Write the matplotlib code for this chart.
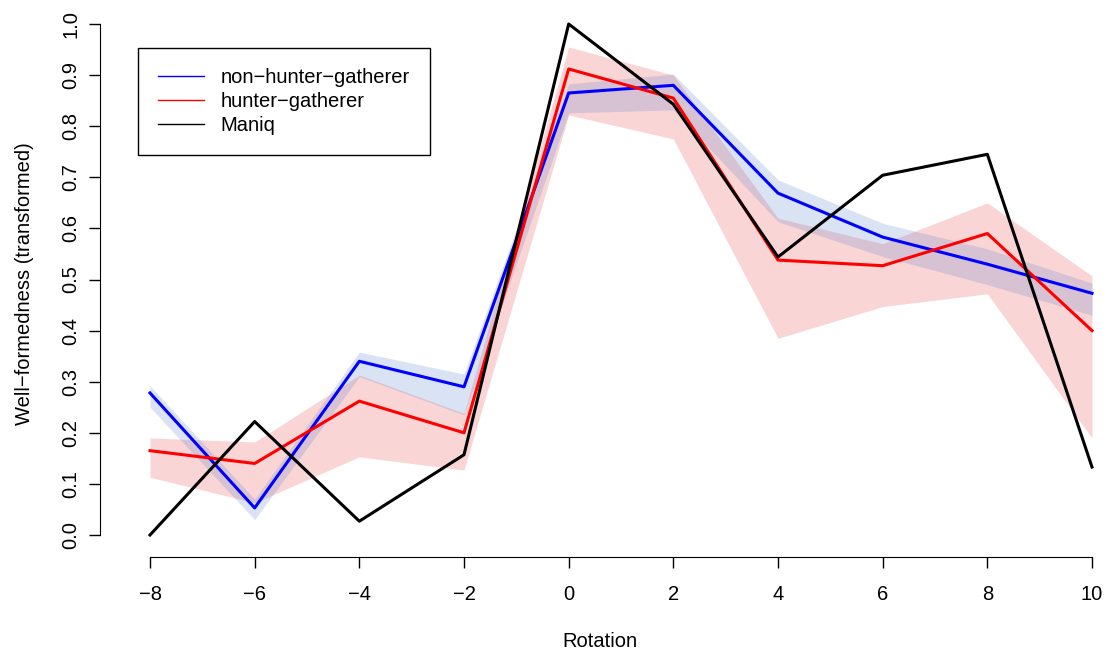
import matplotlib.pyplot as plt
import numpy as np

plt.rcParams['font.family'] = ['Liberation Sans', 'DejaVu Sans']

rotation = [-8, -6, -4, -2, 0, 2, 4, 6, 8, 10]

# non-hunter-gatherer
nhg = [0.278, 0.053, 0.340, 0.290, 0.865, 0.880, 0.669, 0.583, 0.530, 0.473]
nhg_lo = [0.250, 0.030, 0.310, 0.235, 0.826, 0.832, 0.613, 0.545, 0.490, 0.430]
nhg_hi = [0.292, 0.070, 0.358, 0.315, 0.883, 0.902, 0.695, 0.610, 0.560, 0.493]

# hunter-gatherer
hg = [0.165, 0.140, 0.262, 0.200, 0.912, 0.855, 0.538, 0.527, 0.590, 0.400]
hg_lo = [0.113, 0.063, 0.153, 0.127, 0.822, 0.775, 0.385, 0.447, 0.472, 0.190]
hg_hi = [0.190, 0.182, 0.313, 0.238, 0.955, 0.900, 0.620, 0.570, 0.650, 0.507]

# Maniq
maniq = [0.0, 0.222, 0.027, 0.157, 1.0, 0.843, 0.544, 0.704, 0.745, 0.133]

fig = plt.figure(figsize=(11.07, 6.57), dpi=100)
W, H = 1107, 657
ax = fig.add_axes([100 / W, 1 - 557 / H, 1000 / W, 547 / H])

ax.fill_between(rotation, hg_lo, hg_hi, color=(0.93, 0.35, 0.35), alpha=0.25, lw=0)
ax.fill_between(rotation, nhg_lo, nhg_hi, color=(0.35, 0.5, 0.8), alpha=0.22, lw=0)
ax.plot(rotation, nhg, color='blue', lw=2.2)
ax.plot(rotation, hg, color='red', lw=2.2)
ax.plot(rotation, maniq, color='black', lw=2.2)

ax.set_xlim(-8 - 50 / 52.33, 10 + 8 / 52.33)
ax.set_ylim(-22 / 511, 1 + 14 / 511)

for s in ['top', 'right']:
    ax.spines[s].set_visible(False)
ax.spines['left'].set_bounds(0, 1)
ax.spines['bottom'].set_bounds(-8, 10)
ax.set_xticks(rotation)
ax.set_xticklabels(['\u22128', '\u22126', '\u22124', '\u22122', '0', '2', '4', '6', '8', '10'])
yt = np.round(np.arange(0, 1.01, 0.1), 1)
ax.set_yticks(yt)
ax.set_yticklabels(['%.1f' % v for v in yt], rotation=90, va='center')
ax.tick_params(direction='out', length=8, width=1, labelsize=14.5)
ax.tick_params(axis='x', pad=12)
ax.tick_params(axis='y', pad=6)

ax.set_xlabel('Rotation', fontsize=14.5, labelpad=20)
ax.set_ylabel('Well\u2212formedness (transformed)', fontsize=14.5, labelpad=20)

from matplotlib.lines import Line2D
handles = [Line2D([], [], color='blue', lw=1),
           Line2D([], [], color='red', lw=1),
           Line2D([], [], color='black', lw=1)]
leg = ax.legend(handles, ['non\u2212hunter\u2212gatherer', 'hunter\u2212gatherer', 'Maniq'],
                loc='upper left', bbox_to_anchor=((138 - 100) / 1000, (557 - 48) / 547),
                fontsize=14.5, fancybox=False, framealpha=1, edgecolor='black',
                handlelength=2.3, handletextpad=0.8, borderpad=1.0, labelspacing=0.25,
                borderaxespad=0)
leg.get_frame().set_linewidth(1)

fig.savefig('out.png', dpi=100)
